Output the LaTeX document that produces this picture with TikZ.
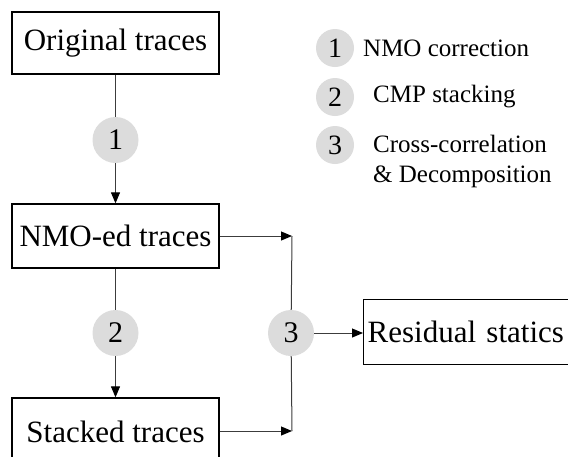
\documentclass[tikz,border=0pt]{standalone}
\usepackage{fontspec}
\setmainfont{Liberation Serif}
\usetikzlibrary{arrows.meta}
\definecolor{discfill}{RGB}{220,220,220}
\definecolor{wire}{RGB}{60,60,60}
\tikzset{
  x=1pt, y=-1pt,
  stage/.style={draw=black, line width=1.3pt, fill=white, minimum width=207pt,
    inner sep=0pt, font=\fontsize{31}{36}\selectfont},
  disc/.style={circle, fill=discfill, minimum size=46pt, inner sep=0pt,
    font=\fontsize{30}{34}\selectfont},
  keydisc/.style={circle, fill=discfill, minimum size=38pt, inner sep=0pt,
    font=\fontsize{28}{30}\selectfont},
  keytext/.style={anchor=west, inner sep=0pt, align=left,
    font=\fontsize{25}{30}\selectfont},
  wireline/.style={draw=wire, line width=1pt},
  flow/.style={wireline, -{Triangle[length=11pt,width=9pt,color=black]}},
}
\begin{document}
\begin{tikzpicture}
\useasboundingbox (0,0) rectangle (568,456);
\clip (0,0) rectangle (568,456);

% processing stages
\node[stage, minimum height=62pt] (o) at (115.5,43) {Original traces};
\node[stage, minimum height=64pt] (n) at (115.5,236) {NMO-ed traces};
\node[stage, minimum height=68pt] (s) at (115.5,432) {Stacked traces};
\node[stage, anchor=west, minimum width=215pt, minimum height=65pt,
      text width=207pt, align=left, inner xsep=4pt] (r) at (363,332) {Residual statics};

% numbered operations
\node[disc] (c1) at (115.5,140) {1};
\node[disc] (c2) at (115.5,333) {2};
\node[disc] (c3) at (291,333) {3};

% junction points on the merge line
\coordinate (j1) at (292,236);
\coordinate (j2) at (292,431);

% connectors
\draw[wireline] (o) -- (c1);
\draw[flow] (c1) -- (n);
\draw[wireline] (n) -- (c2);
\draw[flow] (c2) -- (s);
\draw[flow] (n.east) -- (j1);
\draw[flow] (s.east |- j2) -- (j2);
\draw[wireline] (j1) -- (c3);
\draw[wireline] (j2) -- (c3);
\draw[flow] (c3) -- (r.west |- c3);

% legend
\node[keydisc] (k1) at (335,48) {1};
\node[keydisc] (k2) at (335,97) {2};
\node[keydisc] (k3) at (335,145) {3};
\node[keytext] (t1) at (363,48) {NMO correction};
\node[keytext] (t2) at (373,97) {CMP stacking};
\node[keytext] (t3) at (373,161) {Cross-correlation\\\& Decomposition};
\end{tikzpicture}
\end{document}
